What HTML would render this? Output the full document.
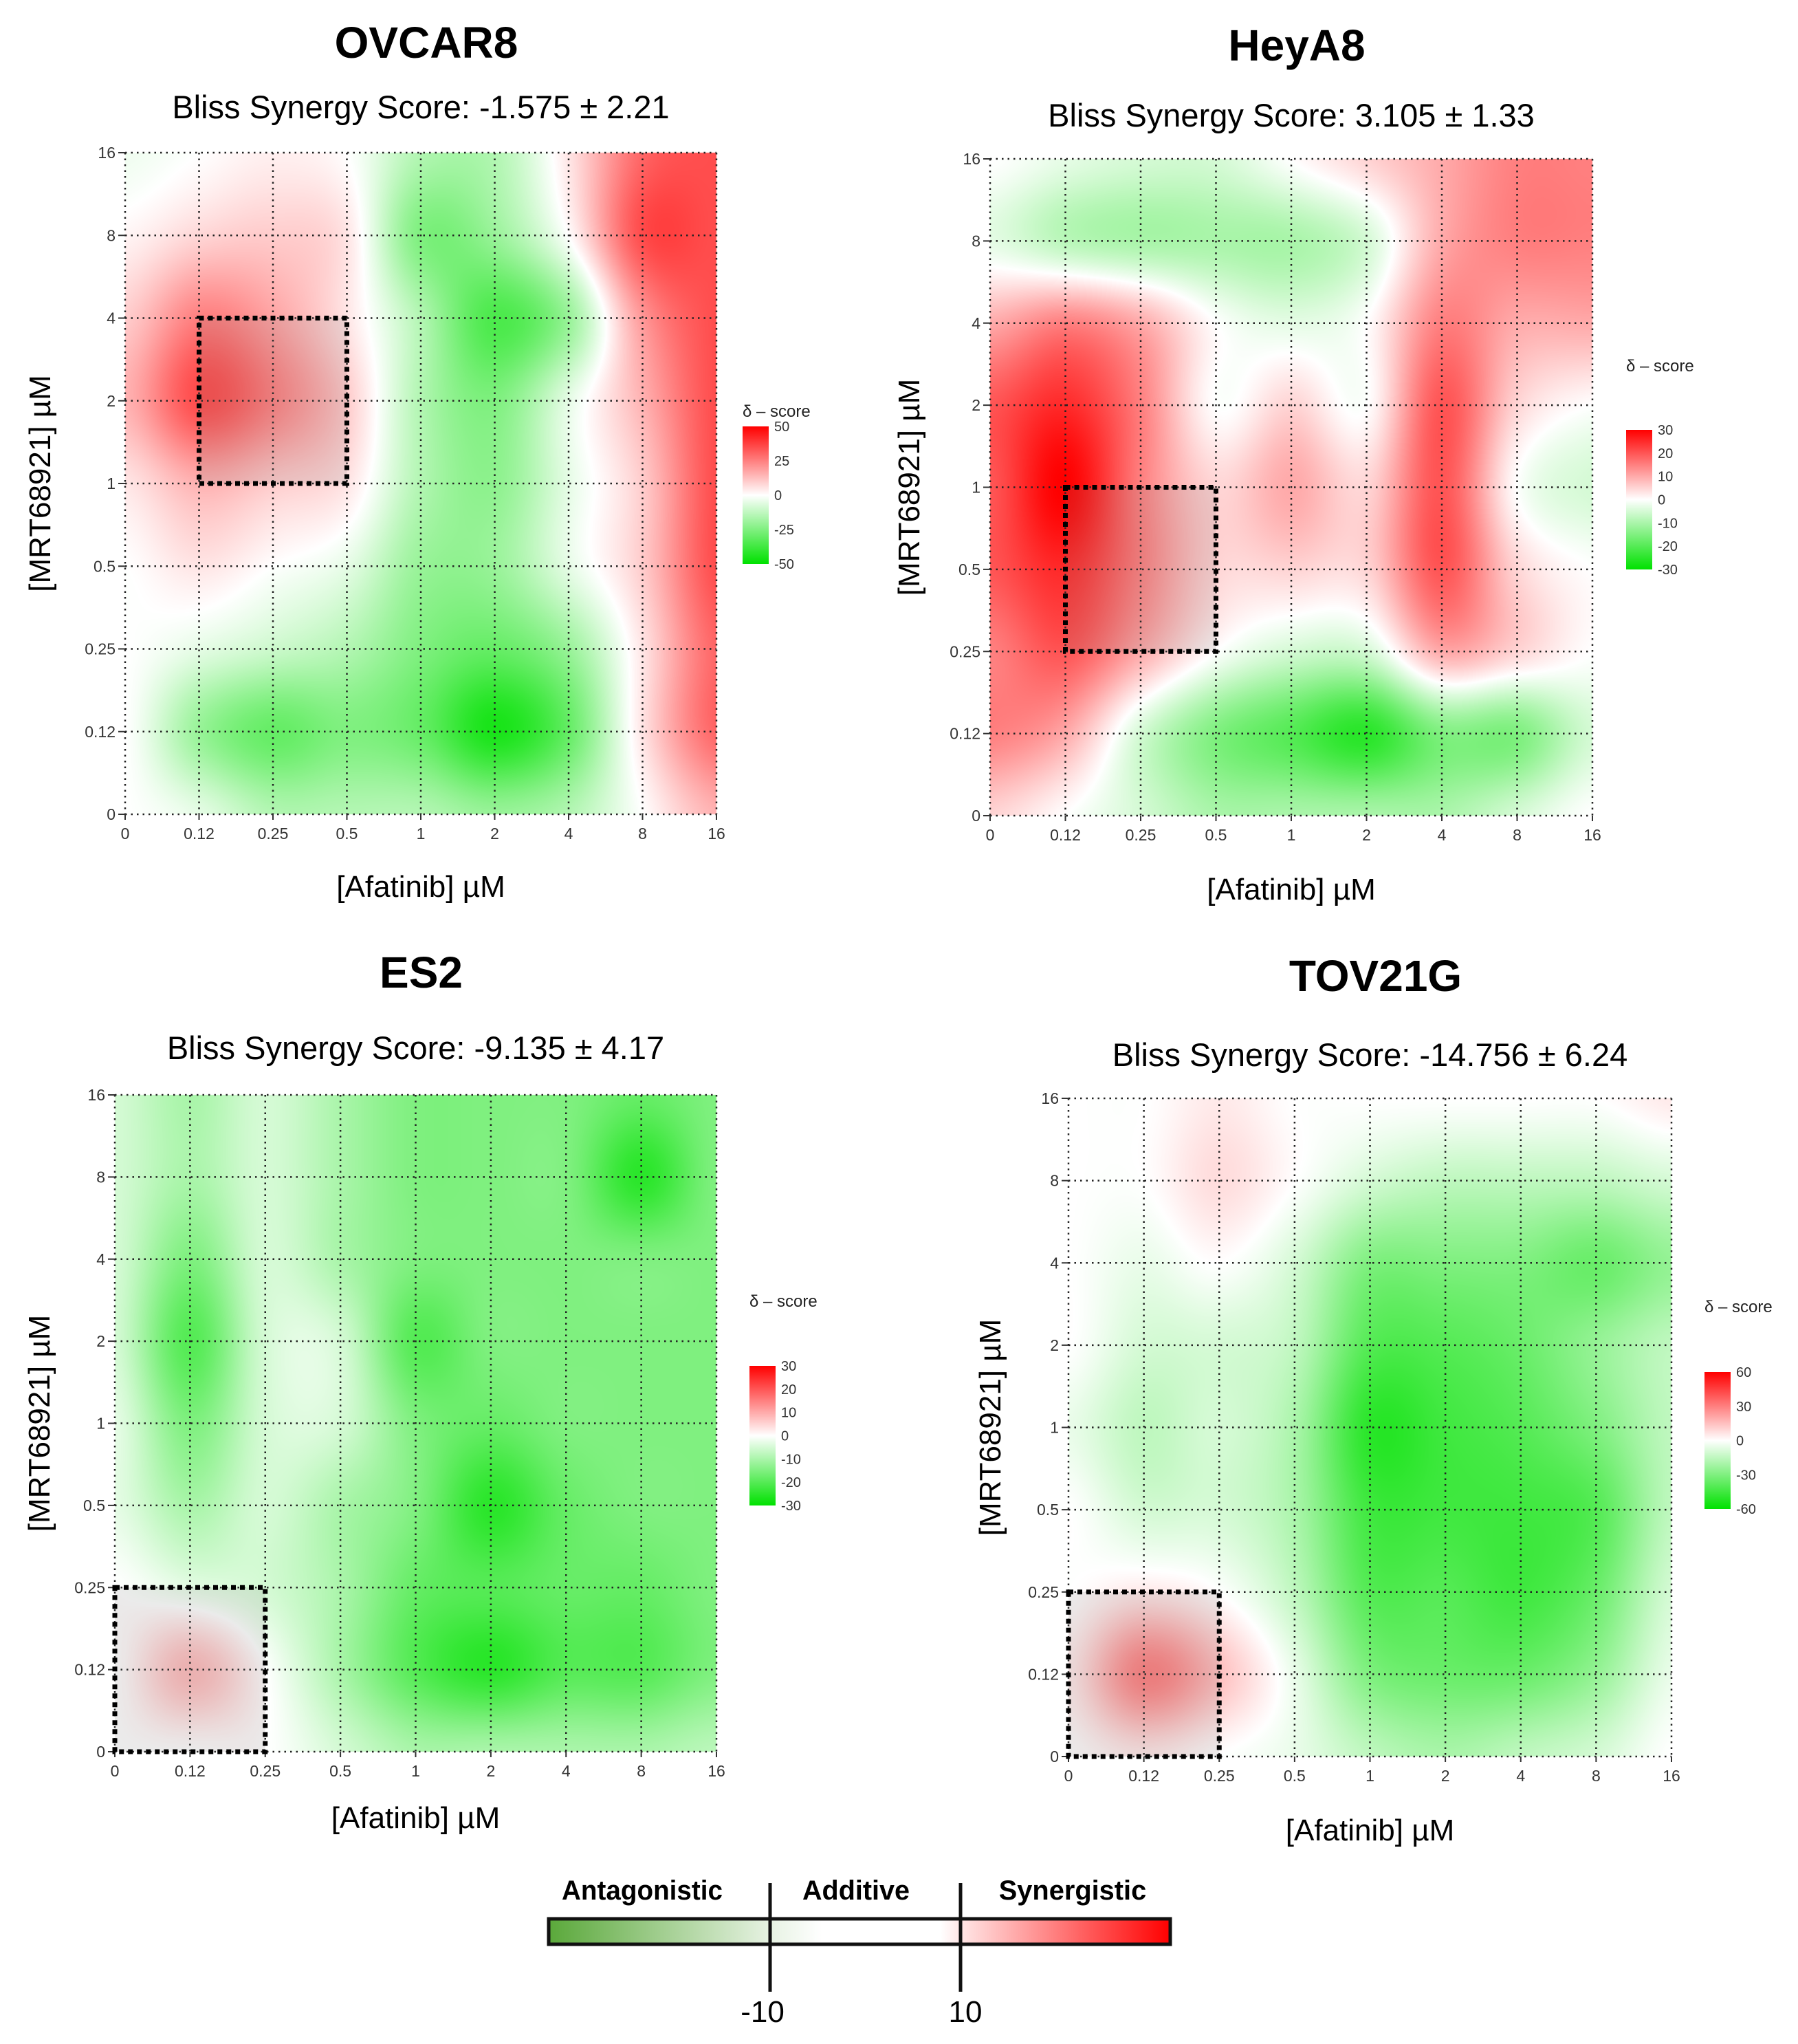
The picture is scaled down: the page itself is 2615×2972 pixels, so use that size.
<!DOCTYPE html>
<html><head><meta charset="utf-8">
<style>
html,body{margin:0;padding:0;background:#fff;}
#wrap{position:relative;width:2615px;height:2972px;overflow:hidden;}
canvas{position:absolute;left:0;top:0;}
svg{position:absolute;left:0;top:0;}
text{font-family:"Liberation Sans",sans-serif;}
</style></head>
<body>
<div id="wrap">
<canvas id="cv" width="2615" height="2972"></canvas>
<svg id="sv" width="2615" height="2972"></svg>
</div>
<script>
// ---- data ----
const xTickLabels = ["0","0.12","0.25","0.5","1","2","4","8","16"];
const yTickLabels = ["0","0.12","0.25","0.5","1","2","4","8","16"];
const panelNames = ["OVCAR8","HeyA8","ES2","TOV21G"];
const panelScores = ["Bliss Synergy Score: -1.575 ± 2.21","Bliss Synergy Score: 3.105 ± 1.33","Bliss Synergy Score: -9.135 ± 4.17","Bliss Synergy Score: -14.756 ± 6.24"];
const legendMax = [50,30,30,60];
const legendTicksOVCAR8 = [50,25,0,-25,-50];
const legendTicksHeyA8 = [30,20,10,0,-10,-20,-30];
const legendTicksES2 = [30,20,10,0,-10,-20,-30];
const legendTicksTOV21G = [60,30,0,-30,-60];
// rows from top (16) to bottom (0); columns x = 0..16
const gridOVCAR8 = [
 [-3,0,3,0,-15,-15,5,30,35],
 [2,8,10,5,-25,-20,0,35,35],
 [10,25,18,5,-15,-35,-20,20,35],
 [15,35,25,10,-15,-25,-5,15,35],
 [5,15,10,5,-15,-22,-5,10,35],
 [0,5,0,-5,-20,-20,-5,10,35],
 [0,-5,-10,-15,-25,-30,-20,5,30],
 [0,-20,-30,-25,-30,-45,-30,5,30],
 [0,-5,-15,-15,-15,-20,-15,0,15]];
const gridHeyA8 = [
 [0,-3,-5,-5,0,5,10,15,15],
 [-3,-8,-10,-10,-10,-5,10,15,15],
 [10,15,10,0,-3,0,15,10,10],
 [20,25,15,0,5,0,20,5,0],
 [20,30,15,5,10,5,20,0,-5],
 [20,25,15,5,5,5,20,5,0],
 [15,20,10,0,-5,-5,10,5,0],
 [15,10,-5,-15,-20,-25,-15,-15,-5],
 [5,0,-5,-10,-10,-10,-10,-5,0]];
const gridES2 = [
 [-5,-10,-5,-10,-15,-15,-15,-18,-15],
 [-5,-10,-5,-10,-15,-15,-15,-25,-15],
 [-5,-15,-5,-10,-15,-15,-15,-15,-15],
 [-5,-20,-5,-5,-20,-15,-15,-15,-15],
 [-3,-15,-5,-5,-15,-18,-15,-15,-15],
 [-3,-10,-5,-10,-15,-25,-18,-15,-15],
 [0,-3,-5,-10,-18,-20,-18,-18,-15],
 [0,8,0,-10,-20,-25,-20,-20,-15],
 [0,0,0,-5,-10,-10,-10,-10,-8]];
const gridTOV21G = [
 [0,0,5,0,0,0,0,0,5],
 [0,0,8,0,-10,-15,-15,-15,-10],
 [0,-5,0,-10,-30,-30,-30,-35,-25],
 [0,-10,-10,-15,-40,-40,-35,-25,-15],
 [-5,-15,-10,-20,-50,-45,-40,-30,-15],
 [0,-10,-10,-20,-45,-45,-45,-40,-15],
 [0,5,0,-15,-40,-40,-45,-35,-10],
 [5,30,15,-5,-30,-35,-35,-25,-5],
 [0,5,0,-5,-15,-20,-15,-10,0]];
// highlighted boxes: [x0 idx, x1 idx, y0 idx, y1 idx] (y idx from bottom)
const boxOVCAR8 = [1,3,4,6];
const boxHeyA8 = [1,3,2,4];
const boxES2 = [0,2,0,2];
const boxTOV21G = [0,2,0,2];

// ---- layout ----
const layout = [
 {x0:182,x1:1042,y0:222,y1:1184,titleY:84,subY:172,ytX:58,xtY:1304,cbX:1080,cbY0:620,cbY1:820,lgY:606},
 {x0:1440,x1:2316,y0:231,y1:1186,titleY:88,subY:184,ytX:1322,xtY:1308,cbX:2365,cbY0:625,cbY1:828,lgY:540},
 {x0:167,x1:1042,y0:1592,y1:2547,titleY:1436,subY:1540,ytX:57,xtY:2658,cbX:1090,cbY0:1986,cbY1:2189,lgY:1900},
 {x0:1554,x1:2431,y0:1597,y1:2554,titleY:1441,subY:1550,ytX:1440,xtY:2676,cbX:2479,cbY0:1995,cbY1:2194,lgY:1908}
];
const grids=[gridOVCAR8,gridHeyA8,gridES2,gridTOV21G];
const boxes=[boxOVCAR8,boxHeyA8,boxES2,boxTOV21G];
const ltick=[legendTicksOVCAR8,legendTicksHeyA8,legendTicksES2,legendTicksTOV21G];

function colorFor(v,m){
 let t=Math.max(-1,Math.min(1,v/m));
 if(t>=0) return [255,Math.round(255*(1-t)),Math.round(255*(1-t))];
 t=-t; return [Math.round(255*(1-t)),Math.round(255-30*t),Math.round(255*(1-t))];
}
function cr(p0,p1,p2,p3,t){return 0.5*((2*p1)+(-p0+p2)*t+(2*p0-5*p1+4*p2-p3)*t*t+(-p0+3*p1-3*p2+p3)*t*t*t);}
function sample(g,gx,gy){
 const n=9, cl=i=>Math.max(0,Math.min(n-1,i));
 const ix=Math.floor(gx), iy=Math.floor(gy), fx=gx-ix, fy=gy-iy;
 const rows=[];
 for(let j=-1;j<=2;j++){const r=g[cl(iy+j)];
  rows.push(cr(r[cl(ix-1)],r[cl(ix)],r[cl(ix+1)],r[cl(ix+2)],fx));}
 return cr(rows[0],rows[1],rows[2],rows[3],fy);
}
const ctx=document.getElementById('cv').getContext('2d');
const NS="http://www.w3.org/2000/svg", sv=document.getElementById('sv');
function el(tag,attrs,parent,txt){const e=document.createElementNS(NS,tag);for(const k in attrs)e.setAttribute(k,attrs[k]);if(txt!==undefined)e.textContent=txt;(parent||sv).appendChild(e);return e;}

for(let p=0;p<4;p++){
 const L=layout[p], g=grids[p], m=legendMax[p];
 const w=L.x1-L.x0, h=L.y1-L.y0;
 const sx=i=>L.x0+i*w/8, sy=j=>L.y1-j*h/8;
 const img=ctx.createImageData(w,h);
 for(let py=0;py<h;py++){for(let px=0;px<w;px++){
  const v=sample(g,px/(w-1)*8,py/(h-1)*8);
  const c=colorFor(v,m), k=(py*w+px)*4;
  img.data[k]=c[0];img.data[k+1]=c[1];img.data[k+2]=c[2];img.data[k+3]=255;}}
 ctx.putImageData(img,L.x0,L.y0);

 const grp=el('g',{},sv);
 
 
 const t=el('text',{x:(L.x0+L.x1)/2+8,y:L.titleY,'text-anchor':'middle','font-size':64,'font-weight':'bold'},grp,panelNames[p]);
 
 
 const s=el('text',{x:(L.x0+L.x1)/2,y:L.subY,'text-anchor':'middle','font-size':47},grp,panelScores[p]);
 
 
 for(let i=0;i<9;i++){
  const gl=el('line',{x1:sx(i),x2:sx(i),y1:L.y0,y2:L.y1,stroke:'#222','stroke-width':2.5,'stroke-dasharray':'2.5 6'},grp);
  
  
  const hl=el('line',{x1:L.x0,x2:L.x1,y1:sy(i),y2:sy(i),stroke:'#222','stroke-width':2.5,'stroke-dasharray':'2.5 6'},grp);
  
  
  el('line',{x1:L.x0-10,x2:L.x0,y1:sy(i),y2:sy(i),stroke:'#333','stroke-width':2},grp);
  el('line',{x1:sx(i),x2:sx(i),y1:L.y1,y2:L.y1+8,stroke:'#333','stroke-width':2},grp);
  const yl=el('text',{x:L.x0-14,y:sy(i)+8,'text-anchor':'end','font-size':23,fill:'#333'},grp,yTickLabels[i]);
  
  
  const xl=el('text',{x:sx(i),y:L.y1+36,'text-anchor':'middle','font-size':23,fill:'#333'},grp,xTickLabels[i]);
  
  
 }
 const b=boxes[p];
 const br=el('rect',{x:sx(b[0]),y:sy(b[3]),width:sx(b[1])-sx(b[0]),height:sy(b[2])-sy(b[3]),fill:'rgba(120,120,120,0.15)',stroke:'#000','stroke-width':7,'stroke-dasharray':'7 6'},grp);
 
 
 const xt=el('text',{x:(L.x0+L.x1)/2,y:L.xtY,'text-anchor':'middle','font-size':44},grp,'[Afatinib] µM');
 
 
 const cy=(L.y0+L.y1)/2;
 const yt=el('text',{x:L.ytX,y:cy,'text-anchor':'middle','font-size':44,transform:`rotate(-90 ${L.ytX} ${cy})`,dy:15},grp,'[MRT68921] µM');
 
 
 const gid='lg'+p;
 const defs=el('defs',{},grp);
 const lg=el('linearGradient',{id:gid,x1:0,y1:0,x2:0,y2:1},defs);
 [[0,'rgb(255,0,0)'],[0.5,'#fff'],[1,'rgb(0,225,0)']].forEach(s=>el('stop',{offset:s[0],'stop-color':s[1]},lg));
 const lt=el('text',{x:L.cbX,y:L.lgY,'font-size':24,fill:'#222'},grp,'δ – score');
 
 
 const cb=el('rect',{x:L.cbX,y:L.cbY0,width:38,height:L.cbY1-L.cbY0,fill:`url(#${gid})`},grp);
 
 
 const tk=ltick[p];
 tk.forEach(v=>{const yy=L.cbY0+(m-v)/(2*m)*(L.cbY1-L.cbY0);
  const lb=el('text',{x:L.cbX+46,y:yy+7,'font-size':20,fill:'#333'},grp,String(v));
  
  });
}
// bottom legend
const bg=el('g',{},sv);


const defs=el('defs',{},bg);
const kg=el('linearGradient',{id:'kg',x1:0,y1:0,x2:1,y2:0},defs);
[[0,'#5aa83a'],[0.36,'#e8f3e4'],[0.44,'#fff'],[0.63,'#fff'],[0.66,'#ffe8e8'],[1,'#ff0000']].forEach(s=>el('stop',{offset:s[0],'stop-color':s[1]},kg));
const kr=el('rect',{x:798,y:2790,width:904,height:37,fill:'url(#kg)',stroke:'#111','stroke-width':5},bg);


[1120,1397].forEach(x=>el('line',{x1:x,x2:x,y1:2738,y2:2896,stroke:'#111','stroke-width':5},bg));
[["Antagonistic",934,'antagonistic-label'],["Additive",1245,'additive-label'],["Synergistic",1560,'synergistic-label']].forEach(a=>{
 const tx=el('text',{x:a[1],y:2762,'text-anchor':'middle','font-size':40,'font-weight':'bold',textLength:a[0].length*19.5,lengthAdjust:'spacingAndGlyphs'},bg,a[0]);
 
 });
[["-10",1109],["10",1404]].forEach(a=>{
 const tx=el('text',{x:a[1],y:2940,'text-anchor':'middle','font-size':44},bg,a[0]);
 
 });
</script>
</body></html>
